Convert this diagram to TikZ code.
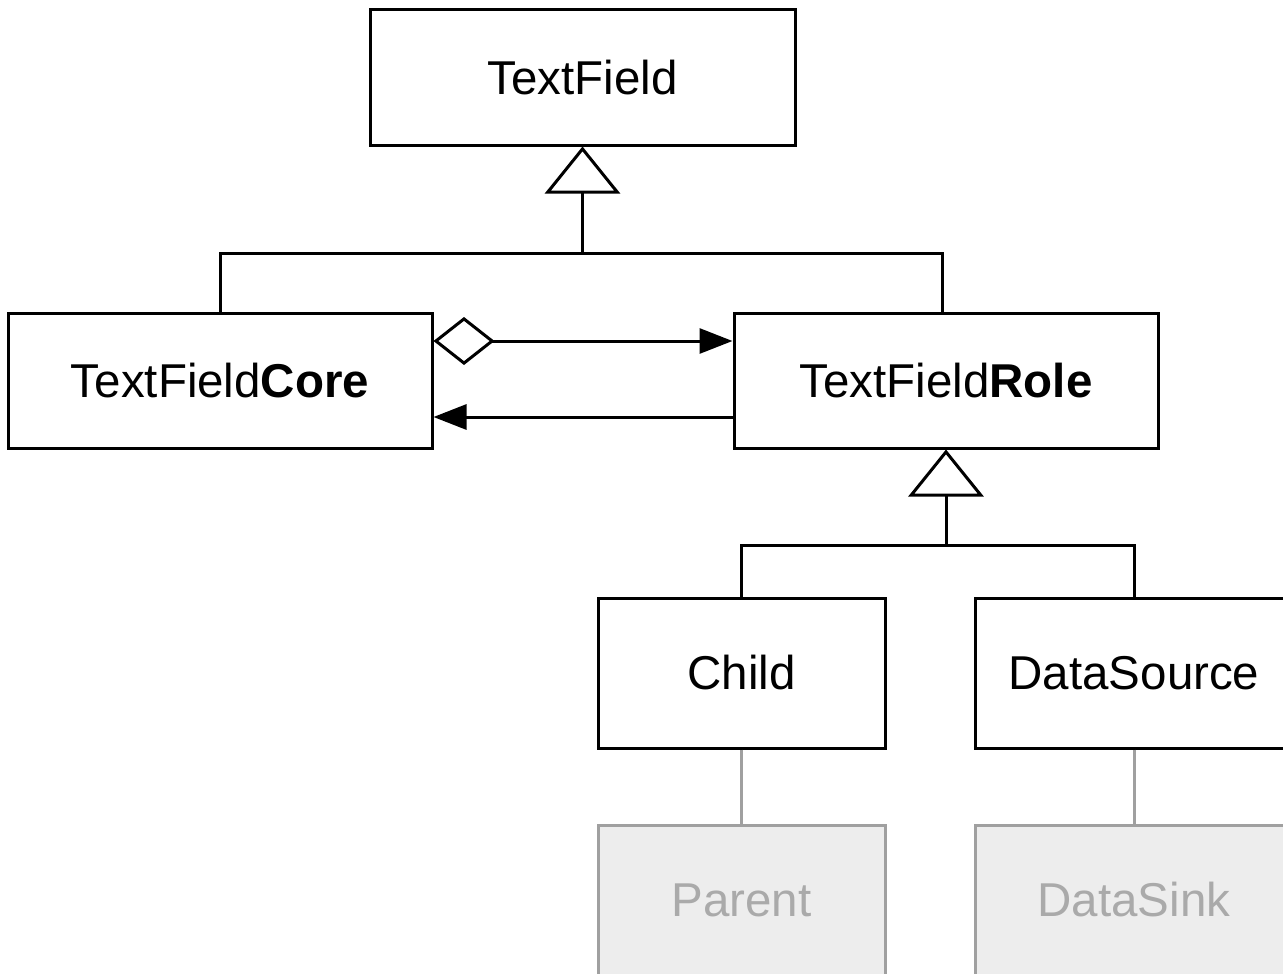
\documentclass[tikz,border=0pt]{standalone}
\usepackage{fontspec}
\setmainfont{Liberation Sans}
\usetikzlibrary{arrows.meta}
\definecolor{ghostline}{HTML}{A0A0A0}
\definecolor{ghostfill}{HTML}{EDEDED}
\definecolor{ghosttext}{HTML}{AAAAAA}
\tikzset{
  classbox/.style={draw=black, line width=3pt, fill=white, inner sep=0pt,
    font=\fontsize{47.5}{56}\selectfont, text=black},
  ghostbox/.style={draw=ghostline, line width=3pt, fill=ghostfill, inner sep=0pt,
    font=\fontsize{47.5}{56}\selectfont, text=ghosttext},
  link/.style={draw=black, line width=3pt},
  ghostlink/.style={draw=ghostline, line width=3pt},
  inherits/.style={link, -{Triangle[open, length=47pt, width=75pt, line width=3pt]}},
  owns/.style={link, {Diamond[open, length=61pt, width=48pt, line width=3pt]}-{Triangle[length=33pt, width=25pt]}},
  refers/.style={link, -{Triangle[length=33pt, width=25pt]}}
}
\begin{document}
\begin{tikzpicture}[x=1pt, y=-1pt]
  \useasboundingbox (0,0) rectangle (1283,974);

  % classes
  \node[classbox, minimum width=425pt, minimum height=135pt] (tf) at (582.5,77.5) {TextField};
  \node[classbox, minimum width=424pt, minimum height=135pt] (core) at (220,380.5) {TextField\textbf{Core}};
  \node[classbox, minimum width=424pt, minimum height=135pt] (role) at (946,380.5) {TextField\textbf{Role}};
  \node[classbox, minimum width=287pt, minimum height=150pt] (child) at (741.5,673) {Child};
  \node[classbox, minimum width=318pt, minimum height=150pt] (source) at (1134,673) {DataSource};

  % counterpart roles, shown greyed out
  \node[ghostbox, minimum width=287pt, minimum height=150pt] (parent) at (741.5,900) {Parent};
  \node[ghostbox, minimum width=318pt, minimum height=150pt] (sink) at (1134,900) {DataSink};

  % generalisation: core and role derive from TextField
  \coordinate (busA) at (582.5,253);
  \coordinate (roleTop) at (942,313);
  \draw[link] (core.north) |- (busA) -| (roleTop);
  \draw[inherits] (busA) -- (tf.south);

  % generalisation: concrete roles derive from TextFieldRole
  \coordinate (busB) at (946,545);
  \draw[link] (child.north) |- (busB) -| (source.north);
  \draw[inherits] (busB) -- (role.south);

  % core aggregates its role; role refers back to core
  \draw[owns] ([yshift=39.5pt]core.east) -- ([yshift=39.5pt]role.west);
  \draw[refers] ([yshift=-36.5pt]role.west) -- ([yshift=-36.5pt]core.east);

  % links to counterparts
  \draw[ghostlink] (child.south) -- (parent.north);
  \draw[ghostlink] (source.south) -- (sink.north);
\end{tikzpicture}
\end{document}
